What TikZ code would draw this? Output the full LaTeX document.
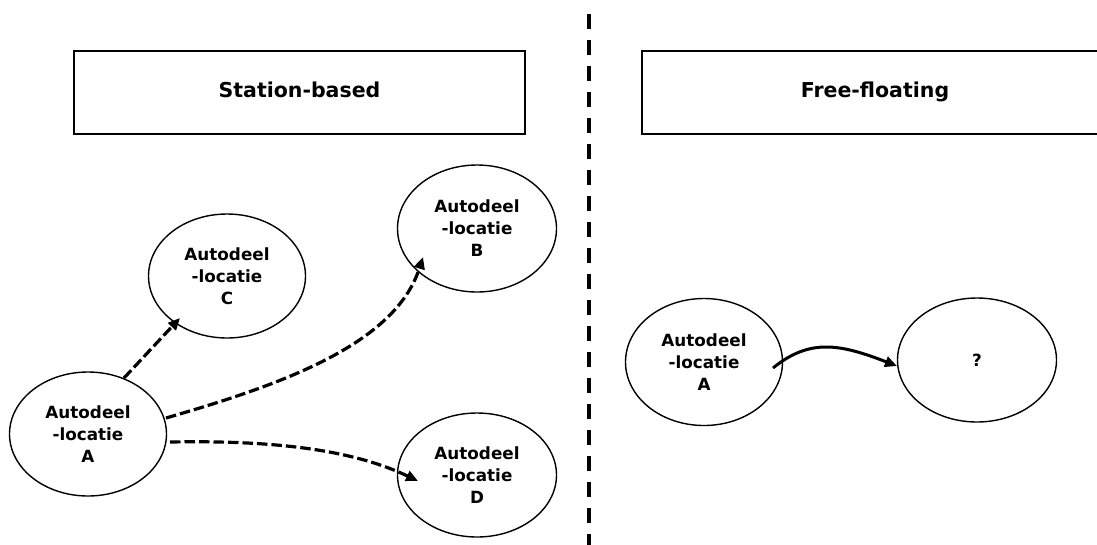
\documentclass[tikz,border=0pt]{standalone}
\usepackage{fontspec}
\setmainfont{DejaVu Sans}
\usetikzlibrary{arrows.meta,calc,shapes.geometric}
\begin{document}
\begin{tikzpicture}[x=1pt,y=-1pt,
  title/.style={draw, line width=1.5pt, inner sep=0pt,
    text height=15pt, text depth=4.5pt,
    minimum height=83pt, font=\bfseries\fontsize{20.5}{24}\selectfont},
  place/.style={ellipse, draw, line width=1.4pt, inner sep=0pt,
    minimum width=157pt, minimum height=124pt, align=center,
    font=\bfseries\fontsize{16.8}{22}\selectfont},
  tip/.style={-{Triangle[length=12pt,width=10.5pt]}},
  trip/.style={tip, line width=3.2pt, dash pattern=on 10.5pt off 4pt},
  hop/.style={tip, line width=3pt},
  divider/.style={line width=3.5pt, dash pattern=on 15pt off 11pt}]

\useasboundingbox (0,0) rectangle (1097,544);

% section headers
\node[title, minimum width=451pt] (sb) at (299.5,92.5) {Station-based};
\node[title, minimum width=466pt] (ff) at (875,92.5) {Free-floating};

% separator between the two models
\coordinate (sepTop) at (589,14);
\coordinate (sepBot) at (589,560);
\draw[divider] (sepTop) -- (sepBot);

% station-based locations
\node[place] (a) at (88,434) {Autodeel\\-locatie\\A};
\node[place] (c) at (227,276) {Autodeel\\-locatie\\C};
\node[place, minimum width=159pt, minimum height=127pt] (b) at (477,228.5) {Autodeel\\-locatie\\B};
\node[place, minimum width=159pt] (d) at (477,475) {Autodeel\\-locatie\\D};

% free-floating
\node[place, minimum height=127pt] (ra) at (704,362) {Autodeel\\-locatie\\A};
\node[place, minimum width=159pt] (q) at (977,360) {?};

% trips between stations
\draw[trip] ($(a)+(36,-56)$) -- ($(c)+(-47,42)$);
\draw[trip] ($(a)+(78,-16)$) .. controls ($(a)+(192,-49)$) and ($(b)+(-82,116.5)$) .. ($(b)+(-54,28.5)$);
\draw[trip] ($(a)+(82,8)$) .. controls ($(a)+(192,6)$) and ($(d)+(-122,-24)$) .. ($(d)+(-59,6)$);

% free-floating trip
\draw[hop] ($(ra)+(69,6)$) .. controls ($(ra)+(106,-24)$) and ($(q)+(-137,-16)$) .. ($(q)+(-80,6)$);
\end{tikzpicture}
\end{document}
